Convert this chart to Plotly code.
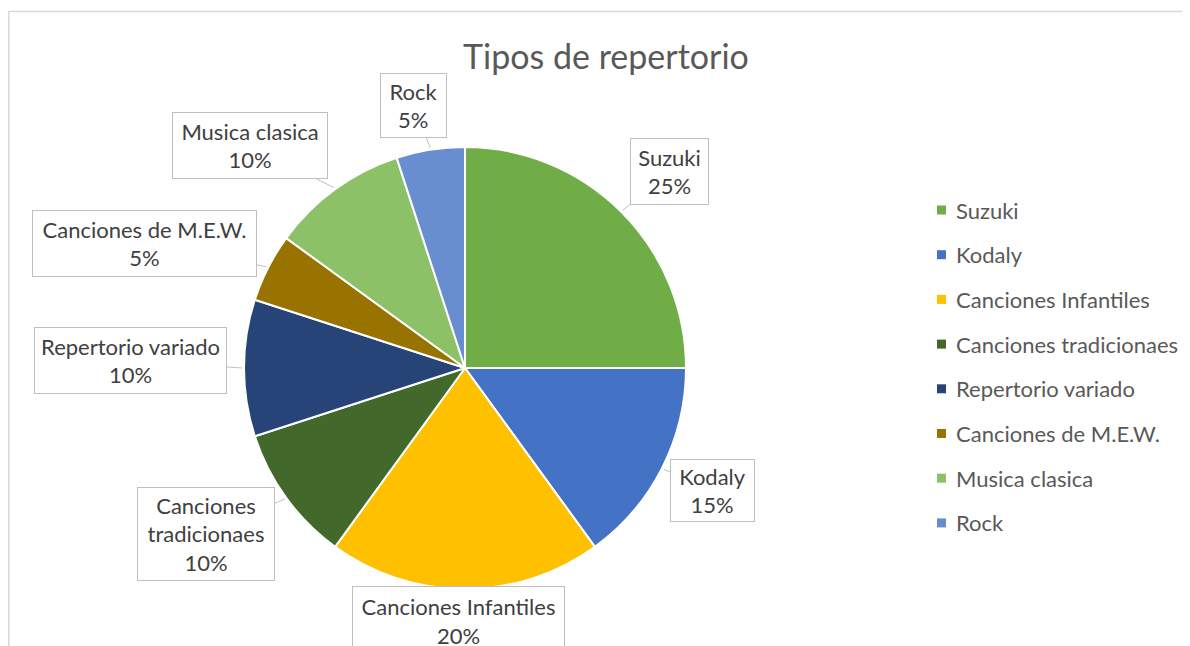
import plotly.graph_objects as go
import numpy as np

# data
categories = ["Suzuki", "Kodaly", "Canciones Infantiles", "Canciones tradicionaes",
              "Repertorio variado", "Canciones de M.E.W.", "Musica clasica", "Rock"]
values = [25, 15, 20, 10, 10, 5, 10, 5]
label_text = ["Suzuki", "Kodaly", "Canciones Infantiles", "Canciones<br>tradicionaes",
              "Repertorio variado", "Canciones de M.E.W.", "Musica clasica", "Rock"]
colors = ["#70AD47", "#4472C4", "#FFC000", "#43682B",
          "#264478", "#997300", "#8CC168", "#698ED0"]

W, H = 1190, 646
OFF = 8  # page body margin shifts everything by 8px
CX, CY, R = 465 - OFF, 368 - OFF, 221   # pie centre / radius in px

# callout boxes: centre and size in px (screen coords)
box_pos = [(670, 172), (712, 490), (458, 621), (206, 534),
           (130, 360), (144, 243), (250, 146), (414, 105)]
box_size = [(79, 67), (85, 63), (213, 70), (138, 94),
            (193, 67), (225, 67), (156, 67), (67, 65)]

FONT = "Lato"
TXT = "#404040"

fig = go.Figure()
fig.add_trace(go.Pie(
    labels=categories,
    values=values,
    sort=False,
    direction="clockwise",
    rotation=0,
    textinfo="none",
    hoverinfo="label+percent",
    marker=dict(colors=colors, line=dict(color="white", width=2)),
    domain=dict(x=[(CX - R) / W, (CX + R) / W], y=[1 - (CY + R) / H, 1 - (CY - R) / H]),
    showlegend=False,
))

# callout labels
total = sum(values)
pct = [v / total for v in values]
cum = np.cumsum([0] + values)
annotations = []
for i, cat in enumerate(categories):
    mid = (cum[i] + values[i] / 2) / total * 2 * np.pi
    tx = CX + (R + 2) * np.sin(mid)
    ty = CY - (R + 2) * np.cos(mid)
    bx, by = box_pos[i][0] - OFF, box_pos[i][1] - OFF
    bw, bh = box_size[i]
    annotations.append(dict(
        x=tx / W, y=1 - ty / H, xref="paper", yref="paper",
        ax=bx - tx, ay=by - ty, axref="pixel", ayref="pixel",
        text=f"{label_text[i]}<br>{pct[i]:.0%}",
        showarrow=True, arrowhead=0, arrowwidth=1, arrowcolor="#BFBFBF", standoff=0,
        width=bw - 2, height=bh - 2, align="center", valign="middle",
        bordercolor="#BFBFBF", borderwidth=1, borderpad=0, bgcolor="white",
        font=dict(family=FONT, size=22, color=TXT),
    ))

# legend (drawn by hand to match spacing)
shapes = []
for i, cat in enumerate(categories):
    ly = 210 + i * 44.7 - OFF
    lx = 937 - OFF
    shapes.append(dict(type="rect", xref="paper", yref="paper",
                       x0=lx / W, x1=(lx + 9) / W, y0=1 - (ly + 4.5) / H, y1=1 - (ly - 4.5) / H,
                       fillcolor=colors[i], line=dict(width=0)))
    annotations.append(dict(x=(lx + 17) / W, y=1 - ly / H, xref="paper", yref="paper",
                            text=cat, showarrow=False, xanchor="left", yanchor="middle",
                            font=dict(family=FONT, size=22, color="#595959")))

# chart frame
shapes.append(dict(type="rect", xref="paper", yref="paper",
                   x0=0.8 / W, x1=1.02, y0=-0.05, y1=1 - 3.5 / H,
                   line=dict(color="#D9D9D9", width=1.5), layer="below"))

fig.update_layout(
    width=W, height=H,
    margin=dict(l=0, r=0, t=0, b=0),
    paper_bgcolor="white", plot_bgcolor="white",
    title=dict(text="Tipos de repertorio", x=(606 - OFF) / W, xanchor="center",
               y=1 - (57 - OFF) / H, yanchor="middle",
               font=dict(family=FONT, size=34, color="#595959")),
    annotations=annotations,
    shapes=shapes,
)

fig.write_html("out.html")
